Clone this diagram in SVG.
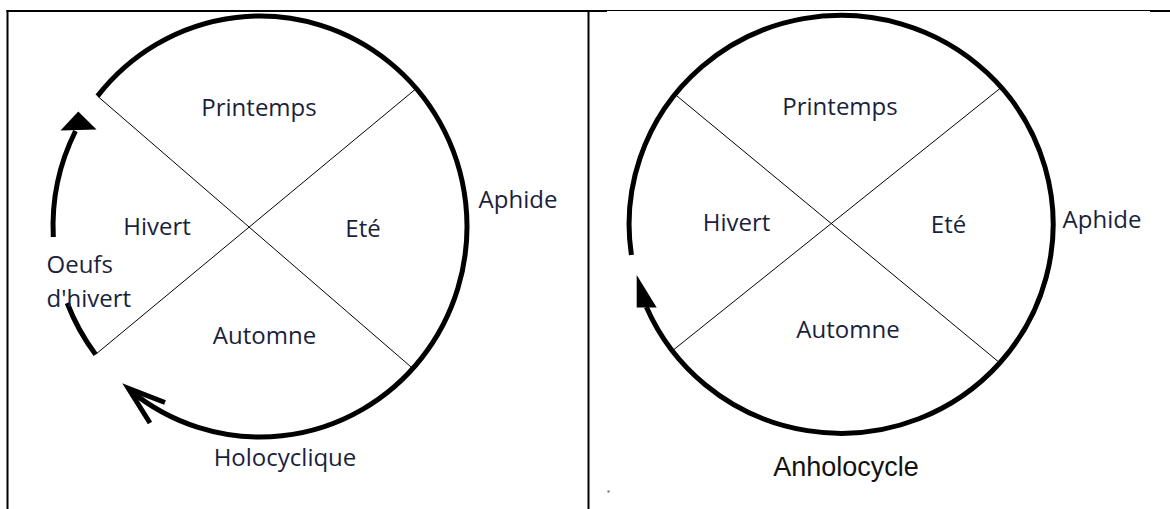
<svg xmlns="http://www.w3.org/2000/svg" width="1170" height="509" viewBox="0 0 1170 509">
  <style>
    .frame { stroke: #000; fill: none; }
    .thin { stroke: #000; stroke-width: 1; fill: none; }
    .arc { stroke: #000; stroke-width: 5; fill: none; stroke-linecap: butt; }
    .head { fill: #000; stroke: none; }
    .lbl { font-family: "Open Sans", "Noto Sans", sans-serif; font-size: 24px; fill: #1a1f3d; }
    .big { font-family: "Liberation Sans", Arial, sans-serif; font-size: 27px; fill: #111; }
  </style>

  <rect width="1170" height="509" fill="#fff"/>

  <g id="frame">
    <line class="frame" x1="7.5" y1="10" x2="7.5" y2="509" stroke-width="2"/>
    <line class="frame" x1="6.5" y1="11" x2="607" y2="11" stroke-width="2"/>
    <line class="frame" x1="607" y1="10.5" x2="1150" y2="10.5" stroke-width="1"/>
    <line class="frame" x1="1150" y1="11" x2="1170" y2="11" stroke-width="2"/>
    <line class="frame" x1="588.5" y1="10" x2="588.5" y2="509" stroke-width="2"/>
    <rect x="607.5" y="490.5" width="2" height="2" fill="#666"/>
  </g>

  <g id="connectors">
    <!-- left panel dividers -->
    <line class="thin" x1="97.5" y1="96.1" x2="412.7" y2="368.4"/>
    <line class="thin" x1="95.6" y1="354.4" x2="416.3" y2="88.5"/>
    <!-- left panel main arc (holocyclique) -->
    <path class="arc" d="M 97.5 96.1 A 207 210.5 0 1 1 129.6 390"/>
    <polyline class="arc" points="165,402.5 128.3,388.3 150,423" stroke-linejoin="miter" stroke-width="4"/>
    <!-- left panel egg arc -->
    <path class="arc" d="M 53.3 237 A 207 210.5 0 0 1 75.5 131"/>
    <polygon class="head" points="78.3,111.5 60.5,130.5 96.5,129.5"/>
    <path class="arc" d="M 95.6 354.4 A 207 210.5 0 0 1 67.2 303"/>

    <!-- right panel dividers -->
    <line class="thin" x1="674.8" y1="94.2" x2="999.6" y2="362.7"/>
    <line class="thin" x1="672.4" y1="350.7" x2="1001.4" y2="87.3"/>
    <!-- right panel cycle -->
    <path class="arc" d="M 631.4 255 A 212 209 0 1 1 646.4 307"/>
    <polygon class="head" points="636.7,275 636.7,307.5 656.7,307.5"/>
  </g>

  <g id="left-printemps"><text class="lbl" x="259" y="116" text-anchor="middle">Printemps</text></g>
  <g id="left-hivert"><text class="lbl" x="157" y="235" text-anchor="middle">Hivert</text></g>
  <g id="left-ete"><text class="lbl" x="363" y="237" text-anchor="middle">Eté</text></g>
  <g id="left-automne"><text class="lbl" x="264.5" y="344" text-anchor="middle">Automne</text></g>
  <g id="left-aphide"><text class="lbl" x="518" y="208" text-anchor="middle">Aphide</text></g>
  <g id="left-oeufs">
    <text class="lbl" x="46.5" y="273">Oeufs</text>
    <text class="lbl" x="46.5" y="307">d'hivert</text>
  </g>
  <g id="left-holocyclique"><text class="lbl" x="285" y="466" text-anchor="middle">Holocyclique</text></g>

  <g id="right-printemps"><text class="lbl" x="840" y="115" text-anchor="middle">Printemps</text></g>
  <g id="right-hivert"><text class="lbl" x="736.5" y="231" text-anchor="middle">Hivert</text></g>
  <g id="right-ete"><text class="lbl" x="948.5" y="233" text-anchor="middle">Eté</text></g>
  <g id="right-automne"><text class="lbl" x="848" y="338" text-anchor="middle">Automne</text></g>
  <g id="right-aphide"><text class="lbl" x="1102" y="228" text-anchor="middle">Aphide</text></g>
  <g id="right-anholocycle"><text class="big" x="846" y="476" text-anchor="middle">Anholocycle</text></g>
</svg>
